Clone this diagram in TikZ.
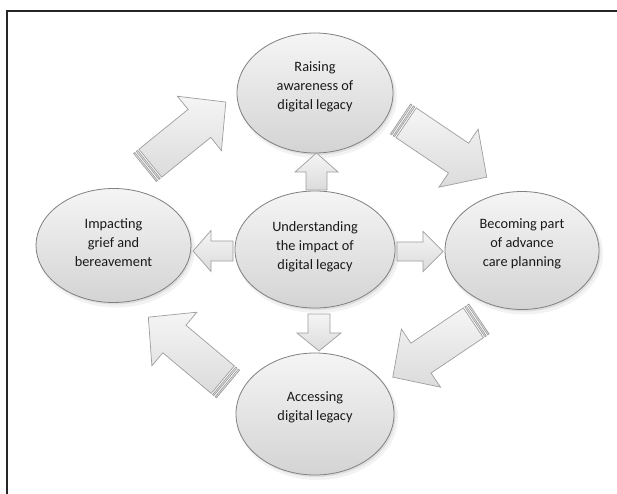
\documentclass[tikz,border=0pt]{standalone}
\usepackage{fontspec}
\setmainfont{Carlito}
\usetikzlibrary{shapes.geometric}
\newcommand\blockarr[7]{% tailx, taily, angle, length, shafthalf, headhalf, headlen
  \begin{scope}[shift={(#1,#2)}, rotate=#3]
    \path[arr] (0,-#5) -- (#4-#7,-#5) -- (#4-#7,-#6) -- (#4,0) -- (#4-#7,#6) -- (#4-#7,#5) -- (0,#5) -- cycle;
  \end{scope}}
\newcommand\bigarr[3]{% tailx, taily, angle
  \begin{scope}[shift={(#1,#2)}, rotate=#3]
    \path[arr] (0,-18) rectangle (1.6,18);
    \path[arr] (3.4,-18) rectangle (5,18);
    \path[arr] (6.8,-18) -- (70,-18) -- (70,-35) -- (104,0) -- (70,35) -- (70,18) -- (6.8,18) -- cycle;
  \end{scope}}
\newcommand\bubshadow[4]{%
  \fill[black, opacity=0.05] (#1+2.5,#2+3.5) ellipse [x radius=#3+1.5, y radius=#4+1.5];
  \fill[black, opacity=0.08] (#1+1.5,#2+2) ellipse [x radius=#3, y radius=#4];}
\begin{document}
\begin{tikzpicture}[x=1pt,y=-1pt,
  bub/.style={ellipse, draw=black!50, line width=0.8pt, top color=black!4, bottom color=black!17, inner sep=0pt},
  lbl/.style={align=center, font=\fontsize{14.3}{19}\selectfont, text=black!90, inner sep=0pt},
  arr/.style={draw=black!38, line width=0.7pt, top color=black!4, bottom color=black!14},
]
\useasboundingbox (0,0) rectangle (617,494);
\fill[white] (0,0) rectangle (617,494);
% frame
\draw[line width=1.6pt, black!85] (7,494) -- (7,11) -- (617,11);

% shadows
\bubshadow{315}{93}{78}{60}
\bubshadow{315}{249.5}{80}{58.5}
\bubshadow{113.5}{245.5}{77.5}{57}
\bubshadow{522}{250.5}{77}{59}
\bubshadow{315}{414}{79}{61}

% big cycle arrows
\bigarr{145}{167.5}{39}
\bigarr{400.5}{119}{-34}
\bigarr{479}{319}{-146}
\bigarr{228}{384}{140}

% ellipses
\node[bub, minimum width=156pt, minimum height=120pt] (top) at (315,93) {};
\node[bub, minimum width=160pt, minimum height=117pt] (mid) at (315,249.5) {};
\node[bub, minimum width=155pt, minimum height=114pt] (left) at (113.5,245.5) {};
\node[bub, minimum width=154pt, minimum height=118pt] (right) at (522,250.5) {};
\node[bub, minimum width=158pt, minimum height=122pt] (bot) at (315,414) {};

% small arrows from the centre
\blockarr{316.5}{190}{90}{37}{10.5}{21.5}{19}
\blockarr{233}{251}{180}{40}{10}{20.5}{18}
\blockarr{397}{251.5}{0}{46}{9.5}{20}{20}
\blockarr{319}{314}{-90}{37}{11}{22}{18}

% labels
\node[lbl] (ttop) at (315,87) {Raising\\awareness of\\digital legacy};
\node[lbl] (tmid) at (315,247) {Understanding\\the impact of\\digital legacy};
\node[lbl] (tleft) at (113.5,243) {Impacting\\grief and\\bereavement};
\node[lbl] (tright) at (522,243.5) {Becoming part\\of advance\\care planning};
\node[lbl] (tbot) at (315,407.5) {Accessing\\digital legacy};
\end{tikzpicture}
\end{document}
